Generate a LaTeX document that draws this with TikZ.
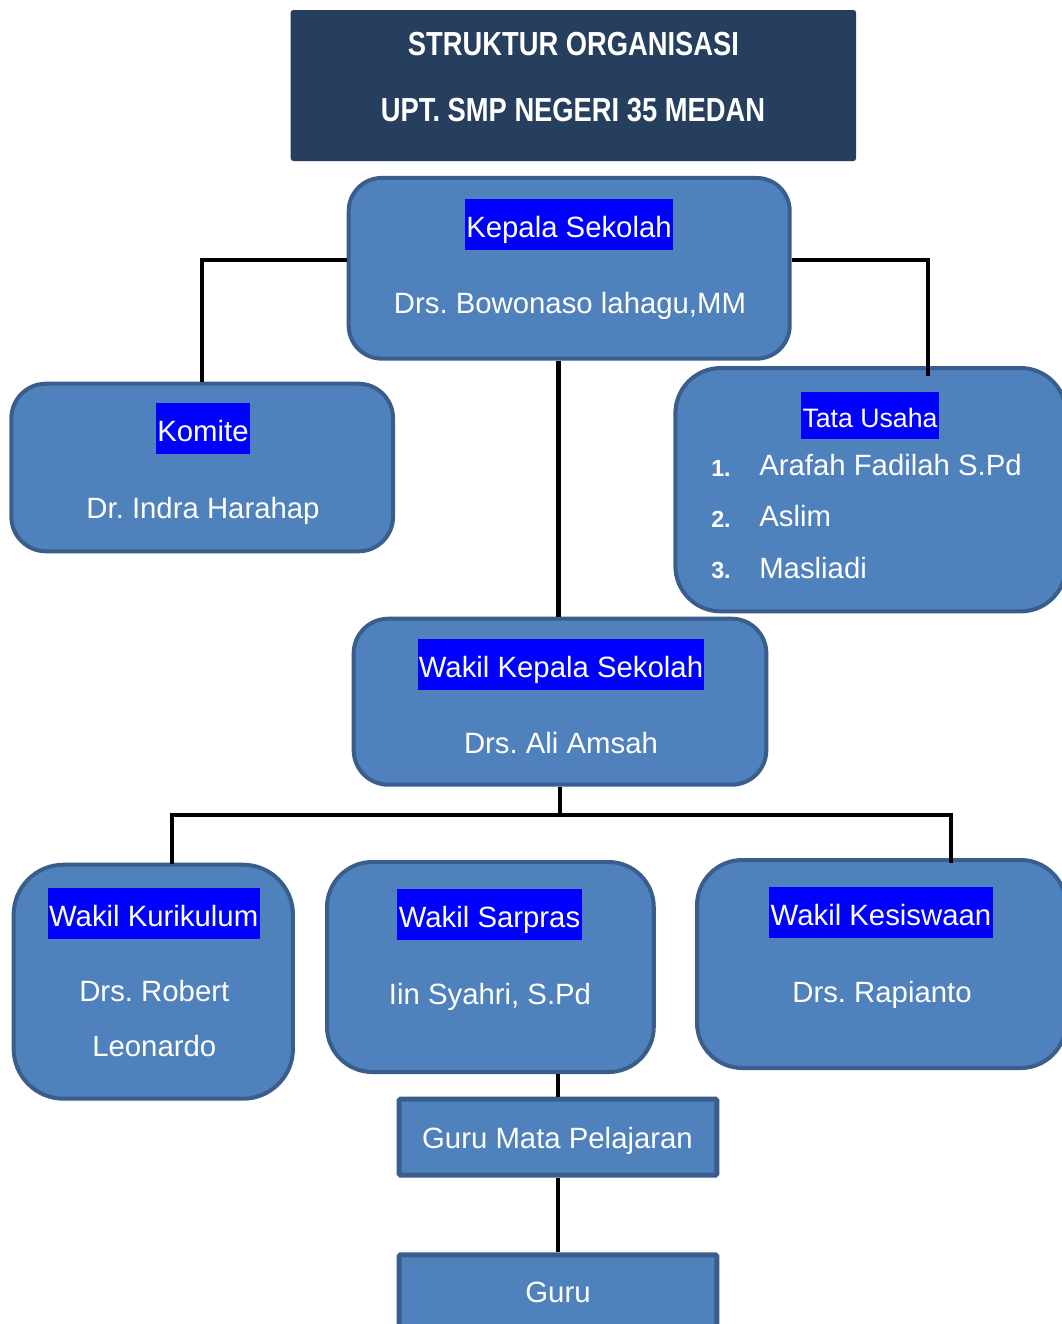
\documentclass[tikz,border=0pt]{standalone}
\usepackage{fontspec}
\setmainfont{Liberation Sans}
\newfontfamily\titlefont{Liberation Sans}[FakeStretch=0.82]
\definecolor{boxfill}{HTML}{4F81BD}
\definecolor{boxborder}{HTML}{3A5E8B}
\definecolor{titlefill}{HTML}{263F5F}
\definecolor{hlblue}{HTML}{0000FF}
\begin{document}
\frenchspacing
\begin{tikzpicture}[x=0.75pt,y=-0.75pt,
  orgbox/.style={draw=boxborder, line width=3pt, fill=boxfill, inner sep=0pt},
  hl/.style={fill=hlblue, text=white, inner xsep=1pt, inner ysep=0pt, text height=28.5pt, text depth=10pt, anchor=base, font=\fontsize{22}{26}\selectfont},
  nm/.style={text=white, anchor=base, inner sep=0pt, font=\fontsize{22}{26}\selectfont},
  titletext/.style={text=white, anchor=base, inner sep=0pt, font=\titlefont\bfseries\fontsize{25}{29}\selectfont},
  numtext/.style={text=white, anchor=base west, inner sep=0pt, font=\bfseries\fontsize{17.5}{20}\selectfont},
  listtext/.style={text=white, anchor=base west, inner sep=0pt, font=\fontsize{22}{26}\selectfont},
  conn/.style={draw=black, line width=3.2pt, line join=miter}]
\useasboundingbox (0,0) rectangle (1062,1324);
\clip (0,0) rectangle (1062,1324);
\fill[white] (0,0) rectangle (1062,1324);

% title
\node[fill=titlefill, rounded corners=2pt, minimum width=424pt, minimum height=113.25pt, inner sep=0pt] (title) at (573.4,85.5) {};
\node[titletext] (t1) at (573.5,55) {STRUKTUR ORGANISASI};
\node[titletext] (t2) at (573,121.7) {UPT. SMP NEGERI 35 MEDAN};

% boxes
\node[orgbox, rounded corners=24.75pt, minimum width=330.75pt, minimum height=135.5pt] (kepala) at (569.2,268.3) {};
\node[orgbox, rounded corners=26pt, minimum width=286.3pt, minimum height=125.7pt] (komite) at (202.2,467.5) {};
\node[orgbox, rounded corners=34pt, minimum width=293pt, minimum height=182.5pt] (tata) at (870.7,489.7) {};
\node[orgbox, rounded corners=26pt, minimum width=309.5pt, minimum height=124.5pt] (wakil) at (560,701.7) {};
\node[orgbox, rounded corners=37.5pt, minimum width=209.5pt, minimum height=175.5pt] (kurikulum) at (153.3,981.7) {};
\node[orgbox, rounded corners=34pt, minimum width=245.1pt, minimum height=157.5pt] (sarpras) at (490.4,967) {};
\node[orgbox, rounded corners=34pt, minimum width=276.75pt, minimum height=156pt] (kesiswaan) at (881.5,964) {};
\node[orgbox, line width=3.75pt, rounded corners=1pt, minimum width=238.2pt, minimum height=57pt] (gurumata) at (558,1137.2) {};
\node[orgbox, line width=3.75pt, rounded corners=1pt, minimum width=238.2pt, minimum height=57pt] (guru) at (558,1292.8) {};

% texts
\node[hl] (kepalaL) at (569,237) {Kepala Sekolah};
\node[nm] (kepalaN) at (570,313) {Drs. Bowonaso lahagu,MM};
\node[hl] (komiteL) at (203,441) {Komite};
\node[nm] (komiteN) at (203,518) {Dr. Indra Harahap};
\node[hl, text height=26pt, text depth=9.2pt, font=\fontsize{20}{24}\selectfont] (tataL) at (870,427) {Tata Usaha};
\node[numtext] (n1) at (711,476) {1.};
\node[numtext] (n2) at (711,527) {2.};
\node[numtext] (n3) at (711,578) {3.};
\node[listtext] (l1) at (759,475) {Arafah Fadilah S.Pd};
\node[listtext] (l2) at (759,526.7) {Aslim};
\node[listtext] (l3) at (759,578) {Masliadi};
\node[hl] (wakilL) at (561,677) {Wakil Kepala Sekolah};
\node[nm] (wakilN) at (561,753) {Drs. Ali Amsah};
\node[hl] (kurikulumL) at (153.7,926) {Wakil Kurikulum};
\node[nm] (kurikulumN1) at (154.3,1001.7) {Drs. Robert};
\node[nm] (kurikulumN2) at (154.3,1056.7) {Leonardo};
\node[hl] (sarprasL) at (489.5,927) {Wakil Sarpras};
\node[nm] (sarprasN) at (490,1004) {Iin Syahri, S.Pd};
\node[hl] (kesiswaanL) at (881,925) {Wakil Kesiswaan};
\node[nm] (kesiswaanN) at (882,1002.7) {Drs. Rapianto};
\node[nm] (gurumataT) at (557.5,1148.3) {Guru Mata Pelajaran};
\node[nm] (guruT) at (558,1302.7) {Guru};

% connectors
\coordinate (kL) at ([yshift=6.2pt]kepala.west);
\coordinate (kR) at ([yshift=6.2pt]kepala.east);
\coordinate (tataTop) at ([xshift=43pt,yshift=-7.5pt]tata.north);
\draw[conn] (kL) -| (komite.north);
\draw[conn] (kR) -| (tataTop);
\coordinate (kS) at ([xshift=-8pt]kepala.south);
\draw[conn] (kS) -- (kS |- wakil.north);
\coordinate (bar) at (559.4,815);
\coordinate (kurTop) at ([xshift=14pt,yshift=-1pt]kurikulum.north);
\coordinate (kesTop) at ([xshift=52pt,yshift=-4pt]kesiswaan.north);
\draw[conn] (wakil.south) -- (wakil.south |- bar);
\draw[conn] (kurTop) -- (kurTop |- bar) -- (kesTop |- bar) -- (kesTop);
\draw[conn] (gurumata.north |- sarpras.south) -- (gurumata.north);
\draw[conn] (gurumata.south) -- (guru.north);
\end{tikzpicture}
\end{document}
